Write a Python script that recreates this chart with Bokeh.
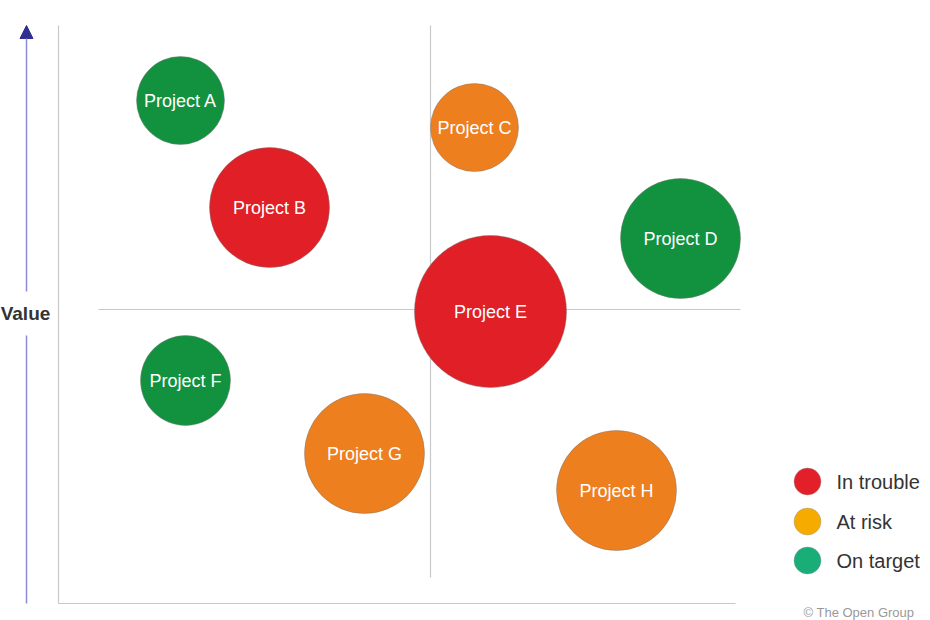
from bokeh.plotting import figure
from bokeh.models import ColumnDataSource, Range1d, Arrow, NormalHead
from bokeh.core.properties import value
from bokeh.embed import file_html
from bokeh.resources import INLINE

# ---- data ----
projects = ["Project A", "Project B", "Project C", "Project D",
            "Project E", "Project F", "Project G", "Project H"]
effort_x = [122, 211, 416, 622, 432, 127, 306, 558]
value_y = [503, 396, 476, 365, 292, 223, 150, 113]
size_r = [44, 60, 44, 60, 76, 45, 60, 60]
status = ["On target", "In trouble", "At risk", "On target",
          "In trouble", "On target", "At risk", "At risk"]

bubble_colors = {"In trouble": "#e11f26", "At risk": "#ee7f1f", "On target": "#12923f"}
legend_labels = ["In trouble", "At risk", "On target"]
legend_colors = ["#e3202a", "#f6ab00", "#19ad77"]

x_max, y_max = 677, 578          # extent of the chart area
x_split, y_split = 372, 294      # quadrant dividers

FONT = "Liberation Sans"

p = figure(width=930, height=620, output_backend="svg", toolbar_location=None,
           x_range=Range1d(-58, 872), y_range=Range1d(-17, 603),
           min_border=0, outline_line_color=None)
p.axis.visible = False
p.grid.visible = False
p.background_fill_color = "white"
p.border_fill_color = "white"

# chart frame lines (left and bottom)
p.segment(x0=[0, 0], y0=[0, 0], x1=[0, x_max], y1=[y_max, 0],
          line_color="#c8c8c8", line_width=1.2)

# quadrant dividers
p.segment(x0=[x_split], y0=[26], x1=[x_split], y1=[y_max], line_color="#c8c8c8", line_width=1.2)
p.segment(x0=[40], y0=[y_split], x1=[682], y1=[y_split], line_color="#c8c8c8", line_width=1.2)

# value arrow with label
ax = -32
p.segment(x0=[ax], y0=[0], x1=[ax], y1=[268], line_color="#8c8cd8", line_width=1.5)
p.add_layout(Arrow(end=NormalHead(size=13, fill_color="#2f2f8f", line_color="#2f2f8f"),
                   x_start=ax, y_start=312, x_end=ax, y_end=y_max,
                   line_color="#8c8cd8", line_width=1.5))
p.text(x=[ax - 1], y=[y_split - 4], text=["Value"], text_align="center",
       text_baseline="middle", text_font=value(FONT), text_font_size="19px",
       text_font_style="bold", text_color="#333333")

# bubbles
src = ColumnDataSource(dict(x=effort_x, y=value_y, r=size_r, name=projects,
                            color=[bubble_colors[s] for s in status]))
p.circle(x="x", y="y", radius="r", source=src, fill_color="color",
         line_color="#777777", line_alpha=0.45, line_width=1)
p.text(x="x", y="y", text="name", source=src, text_align="center",
       text_baseline="middle", text_font=value(FONT), text_font_size="18px",
       text_color="white")

# legend
lx, ly = 749, [122, 82, 43]
p.circle(x=[lx] * 3, y=ly, radius=13.5, fill_color=legend_colors,
         line_color="#999999", line_alpha=0.4)
p.text(x=[lx + 29] * 3, y=ly, text=legend_labels, text_baseline="middle",
       text_font=value(FONT), text_font_size="20px", text_color="#333333")

# copyright
p.text(x=[745], y=[-16], text=["\u00a9 The Open Group"], text_baseline="bottom",
       text_font=value(FONT), text_font_size="13px", text_color="#999999")

open("out.html", "w").write(file_html(p, INLINE))
